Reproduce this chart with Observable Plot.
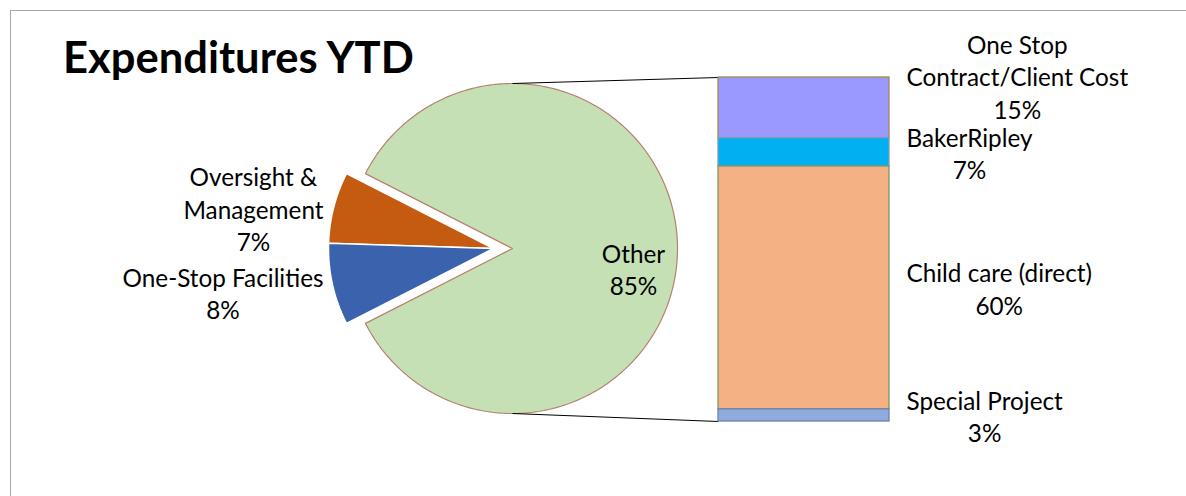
<!DOCTYPE html>
<html>
<head>
<meta charset="utf-8">
<script src="https://cdn.jsdelivr.net/npm/d3@7"></script>
<script src="https://cdn.jsdelivr.net/npm/@observablehq/plot@0.6"></script>
<style>
  html, body { margin: 0; padding: 0; background: #fff; }
  #wrap { position: relative; width: 1186px; height: 496px; overflow: hidden; }
  #frame { position: absolute; left: 10px; top: 10px; width: 1300px; height: 600px;
           border-left: 1.5px solid #a6a6a6; border-top: 1.5px solid #a6a6a6; box-sizing: border-box; }
  #title { position: absolute; left: 63px; top: 35px; margin: 0; font: bold 43.5px Lato, sans-serif;
           line-height: 1; color: #000; white-space: nowrap; }
  #chart { position: absolute; left: 0; top: 0; }
</style>
</head>
<body>
<div id="wrap">
  <div id="chart"></div>
  <div id="frame"></div>
  <h1 id="title">Expenditures YTD</h1>
</div>
<script>
// ---- data ----
const pieLabels = ["Other", "Oversight &\nManagement", "One-Stop Facilities"];
const pieValues = [85, 7, 8];
const barLabels = ["One Stop\nContract/Client Cost", "BakerRipley", "Child care (direct)", "Special Project"];
const barValues = [15, 7, 60, 3];

// ---- styles / layout ----
const pieFill = ["#C5E0B4", "#C55A11", "#3B63AD"];
const pieStroke = ["#B8806F", "#ffffff", "#ffffff"];
const barFill = ["#9999FF", "#00B0F0", "#F4B183", "#8FAADC"];
const barStroke = ["#A48A45", "#7E9CB4", "#7D9A62", "#6F80A8"];
const W = 1186, H = 496;
const cx = 512, cy = 248, R = 165, explodeDx = -19;
const barX1 = 718, barX2 = 889, barTop = 77, barBottom = 421;
const font = "Lato, sans-serif", fontSize = 24.3, lineH = 1.34;
const barLabelLeft = 906, barLabelNudge = [-32, 0, 0, 0];
const pieLabelLayout = [{x: 633, y: 268, align: "center"}, {x: 323, y: 208, align: "right"}, {x: 323, y: 292, align: "right"}];

// ---- pie geometry ----
const total = d3.sum(pieValues);
const spans = pieValues.map(v => v / total * 2 * Math.PI);
const slices = [];
let start = -spans[0] / 2;
pieValues.forEach((v, i) => {
  const a0 = start, a1 = start + spans[i];
  start = a1;
  const ox = i === 0 ? 0 : explodeDx;
  const pts = [{x: cx + ox, y: cy, i}];
  const n = Math.max(4, Math.ceil((a1 - a0) / (Math.PI / 180)));
  for (let k = 0; k <= n; k++) {
    const t = a0 + (a1 - a0) * k / n;
    pts.push({x: cx + ox + R * Math.cos(t), y: cy - R * Math.sin(t), i});
  }
  pts.push({x: cx + ox, y: cy, i});
  slices.push(pts);
});

// ---- bar geometry ----
const barTotal = d3.sum(barValues);
const k = (barBottom - barTop) / barTotal;
const cum = d3.cumsum(barValues);
const segs = barValues.map((v, i) => ({
  i, x1: barX1, x2: barX2,
  y1: barTop + (cum[i] - v) * k,
  y2: barTop + cum[i] * k
}));

// ---- text measurement ----
const ctx = document.createElement("canvas").getContext("2d");
ctx.font = `${fontSize}px Lato`;
const blockW = s => d3.max(s.split("\n"), l => ctx.measureText(l).width);

const pieText = pieLabels.map((l, i) => {
  const text = `${l}\n${pieValues[i]}%`;
  const L = pieLabelLayout[i];
  const w = blockW(text);
  const x = L.align === "center" ? L.x : L.x - w / 2;
  return {text, x, y: L.y};
});
const barText = barLabels.map((l, i) => {
  const text = `${l}\n${barValues[i]}%`;
  const w = blockW(text);
  const s = segs[i];
  return {text, x: barLabelLeft + w / 2, y: (s.y1 + s.y2) / 2 + barLabelNudge[i]};
});

const links = [
  {x1: cx, y1: cy - R, x2: barX1, y2: barTop},
  {x1: cx, y1: cy + R, x2: barX1, y2: barBottom}
];

const chart = Plot.plot({
  width: W, height: H,
  margin: 0,
  x: {domain: [0, W], range: [0, W], axis: null},
  y: {domain: [0, H], range: [0, H], axis: null},
  style: {background: "transparent"},
  marks: [
    ...slices.map((pts, i) => Plot.line(pts, {
      x: "x", y: "y", curve: "linear",
      fill: pieFill[i], stroke: pieStroke[i], strokeWidth: i === 0 ? 1.2 : 1.5, strokeLinejoin: "miter"
    })),
    Plot.link(links, {x1: "x1", y1: "y1", x2: "x2", y2: "y2", stroke: "#000", strokeWidth: 1.2}),
    Plot.rect(segs, {x1: "x1", x2: "x2", y1: "y1", y2: "y2",
      fill: d => barFill[d.i], stroke: d => barStroke[d.i], strokeWidth: 1.3}),
    Plot.text(pieText, {x: "x", y: "y", text: "text", textAnchor: "middle", lineAnchor: "middle",
      lineHeight: lineH, fontSize, fontFamily: font, fill: "#000"}),
    Plot.text(barText, {x: "x", y: "y", text: "text", textAnchor: "middle", lineAnchor: "middle",
      lineHeight: lineH, fontSize, fontFamily: font, fill: "#000"})
  ]
});
document.getElementById("chart").appendChild(chart);
</script>
</body>
</html>
